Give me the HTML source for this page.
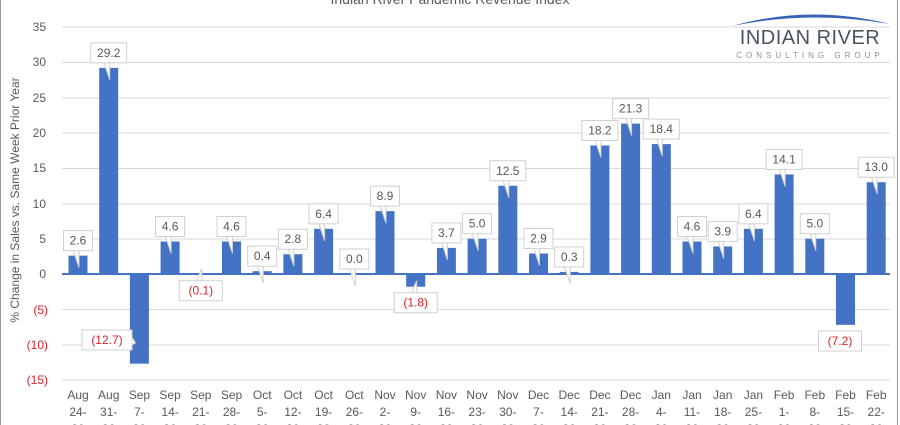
<!DOCTYPE html>
<html><head><meta charset="utf-8"><style>
html,body{margin:0;padding:0;background:#fff;}
svg{display:block;font-family:"Liberation Sans",sans-serif;}
</style></head><body>
<svg width="900" height="425" viewBox="0 0 900 425" xmlns="http://www.w3.org/2000/svg">
<rect x="0" y="0" width="900" height="425" fill="#fff"/>
<line x1="0.5" y1="0" x2="0.5" y2="425" stroke="#999"/>
<line x1="897.5" y1="0" x2="897.5" y2="425" stroke="#999"/>
<text x="450" y="4" text-anchor="middle" font-size="14" fill="#595959">Indian River Pandemic Revenue Index</text>
<g stroke="#d9d9d9" stroke-width="1">
<line x1="62" y1="27" x2="890" y2="27"/><line x1="62" y1="62.5" x2="890" y2="62.5"/>
<line x1="62" y1="98" x2="890" y2="98"/><line x1="62" y1="133" x2="890" y2="133"/>
<line x1="62" y1="168.5" x2="890" y2="168.5"/><line x1="62" y1="204" x2="890" y2="204"/>
<line x1="62" y1="239" x2="890" y2="239"/><line x1="62" y1="309.5" x2="890" y2="309.5"/>
<line x1="62" y1="345" x2="890" y2="345"/><line x1="62" y1="380" x2="890" y2="380"/>
</g>
<g font-size="12" fill="#595959" text-anchor="end">
<text x="46" y="31">35</text><text x="46" y="66">30</text><text x="46" y="102">25</text>
<text x="46" y="137">20</text><text x="46" y="172">15</text><text x="46" y="208">10</text>
<text x="46" y="243">5</text><text x="46" y="278">0</text>
<text x="48" y="314" fill="#e0202a">(5)</text><text x="48" y="349" fill="#e0202a">(10)</text><text x="48" y="384" fill="#e0202a">(15)</text>
</g>
<text transform="translate(19,200) rotate(-90)" text-anchor="middle" font-size="12" fill="#595959">% Change in Sales vs. Same Week Prior Year</text>
<g id="bars" fill="#4472c4"></g>
<line x1="62" y1="274" x2="890" y2="274" stroke="#4472c4" stroke-width="2"/>
<g id="labels"></g>
<g id="xl" font-size="12" fill="#595959" text-anchor="middle"></g>
<path d="M732 26 Q810 4 890 24 Q810 10 732 26Z" fill="#3a63b8"/>
<text x="810" y="44" text-anchor="middle" font-size="20" fill="#4a5460" letter-spacing="0.5">INDIAN RIVER</text>
<text x="810" y="58" text-anchor="middle" font-size="8" fill="#8a9099" letter-spacing="4">CONSULTING GROUP</text>
<script>
var v=[2.6,29.2,-12.7,4.6,-0.1,4.6,0.4,2.8,6.4,0.0,8.9,-1.8,3.7,5.0,12.5,2.9,0.3,18.2,21.3,18.4,4.6,3.9,6.4,14.1,5.0,-7.2,13.0];
var m=["Aug","Aug","Sep","Sep","Sep","Sep","Oct","Oct","Oct","Oct","Nov","Nov","Nov","Nov","Nov","Dec","Dec","Dec","Dec","Jan","Jan","Jan","Jan","Feb","Feb","Feb","Feb"];
var d=[24,31,7,14,21,28,5,12,19,26,2,9,16,23,30,7,14,21,28,4,11,18,25,1,8,15,22];
var ns="http://www.w3.org/2000/svg",s=7.06;
function el(t,a,p,txt){var e=document.createElementNS(ns,t);for(var k in a)e.setAttribute(k,a[k]);if(txt!=null)e.textContent=txt;p.appendChild(e);return e;}
var B=document.getElementById("bars"),L=document.getElementById("labels"),X=document.getElementById("xl");
for(var i=0;i<27;i++){var cx=78+i*30.7,h=v[i]*s;
el("rect",{x:cx-9.5,y:h>=0?274-h:274,width:19,height:Math.max(Math.abs(h),0.5)},B);
var neg=v[i]<0,t=neg?"("+Math.abs(v[i]).toFixed(1)+")":v[i].toFixed(1);
var w=t.length*7+8,lx=cx,ly;
if(neg){ly=274-h+16;}else{ly=274-h-15;}
if(i==2){lx=107;ly=340;} if(i==25){lx=840;ly=341;}
var tipY=neg?274-h-6:274-h+12, tipX=(i==2||i==25)?cx-4:cx+1;
if(i==2||i==25){el("path",{d:"M"+(lx+w/2)+" "+(ly-3)+" L"+tipX+" "+(ly+3)+" L"+(lx+w/2)+" "+(ly+5)+"Z",fill:"#fff",stroke:"#d0d0d0"},L);}
else el("path",{d:"M"+(lx-5)+" "+(ly+(neg?-9:9))+" L"+tipX+" "+tipY+" L"+(lx+1)+" "+(ly+(neg?-9:9))+"Z",fill:"#fff",stroke:"#d0d0d0"},L);
el("rect",{x:lx-w/2,y:ly-10,width:w,height:20,fill:"#fff",stroke:"#d0d0d0"},L);
el("text",{x:lx,y:ly+4,"text-anchor":"middle","font-size":"12",fill:neg?"#e0202a":"#595959"},L,t);
el("text",{x:cx,y:399},X,m[i]);el("text",{x:cx,y:416},X,d[i]+"-");el("text",{x:cx,y:433},X,"30");}
</script>
</svg>
</body></html>
